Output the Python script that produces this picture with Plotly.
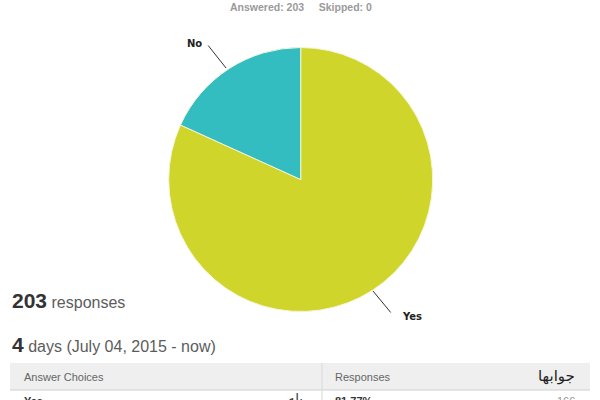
import plotly.graph_objects as go

# ---- data ----
answer_choices = ["Yes", "No"]
answer_choices_fa = ["بله", "خیر"]
response_counts = [166, 37]
answered = 203
skipped = 0
days_open = 4
start_date = "July 04, 2015"

slice_colors = ["#D0D52B", "#33BDC1"]
total = sum(response_counts)
percents = [c / total * 100 for c in response_counts]

W, H = 600, 400


def px(x):
    return x / W


def py(y):
    return 1 - y / H


# pie geometry (pixels)
cx, cy, r = 300.7, 179.5, 132

fig = go.Figure()
fig.add_trace(go.Pie(
    labels=answer_choices,
    values=response_counts,
    sort=False,
    direction="clockwise",
    rotation=0,
    textinfo="none",
    hoverinfo="label+value+percent",
    marker=dict(colors=slice_colors, line=dict(color="#f4f6d8", width=1)),
    domain=dict(x=[px(cx - r), px(cx + r)], y=[py(cy + r), py(cy - r)]),
    showlegend=False,
))

ann = []
shapes = []
base = "Liberation Sans, Arial, sans-serif"

# header text
ann.append(dict(x=px(301), y=py(7), xref="paper", yref="paper",
                text=f"<b>Answered: {answered}&nbsp;&nbsp;&nbsp;&nbsp;&nbsp;Skipped: {skipped}</b>",
                showarrow=False, font=dict(family=base, size=10.5, color="#9a9a9a"),
                xanchor="center", yanchor="middle"))

# slice labels with leader lines
ann.append(dict(x=px(226), y=py(68), ax=-19, ay=-24, xref="paper", yref="paper",
                text="", showarrow=True, arrowhead=0,
                arrowwidth=1, arrowcolor="#333"))
ann.append(dict(x=px(204), y=py(44), xref="paper", yref="paper",
                text=f"<b>{answer_choices[1]}</b>", showarrow=False,
                font=dict(family="DejaVu Sans, sans-serif", size=10, color="#222"),
                xanchor="right", yanchor="middle"))
ann.append(dict(x=px(373), y=py(291), ax=19, ay=23, xref="paper", yref="paper",
                text="", showarrow=True, arrowhead=0,
                arrowwidth=1, arrowcolor="#333"))
ann.append(dict(x=px(400), y=py(316), xref="paper", yref="paper",
                text=f"<b>{answer_choices[0]}</b>", showarrow=False,
                font=dict(family="DejaVu Sans, sans-serif", size=10, color="#222"),
                xanchor="left", yanchor="middle"))

# summary lines
ann.append(dict(x=px(10), y=py(300), xref="paper", yref="paper",
                text=f"<b><span style='font-size:21px;color:#333'>{total}</span></b> "
                     f"<span style='font-size:16px;color:#5c5c5c'>responses</span>",
                showarrow=False, font=dict(family=base, size=16, color="#5c5c5c"),
                xanchor="left", yanchor="middle"))
ann.append(dict(x=px(10), y=py(344), xref="paper", yref="paper",
                text=f"<b><span style='font-size:21px;color:#333'>{days_open}</span></b> "
                     f"<span style='font-size:16px;color:#5c5c5c'>days ({start_date} - now)</span>",
                showarrow=False, font=dict(family=base, size=16, color="#5c5c5c"),
                xanchor="left", yanchor="middle"))

# table
shapes.append(dict(type="rect", xref="paper", yref="paper", x0=px(10), x1=px(590),
                   y0=py(390), y1=py(363), fillcolor="#efefef", line=dict(width=0), layer="below"))
shapes.append(dict(type="line", xref="paper", yref="paper", x0=px(10), x1=px(590),
                   y0=py(390), y1=py(390), line=dict(color="#cfcfcf", width=1)))
shapes.append(dict(type="line", xref="paper", yref="paper", x0=px(322), x1=px(322),
                   y0=py(400), y1=py(363), line=dict(color="#d8d8d8", width=1)))

ann.append(dict(x=px(22), y=py(377), xref="paper", yref="paper", text="Answer Choices",
                showarrow=False, font=dict(family=base, size=11, color="#666"),
                xanchor="left", yanchor="middle"))
ann.append(dict(x=px(333), y=py(377), xref="paper", yref="paper", text="Responses",
                showarrow=False, font=dict(family=base, size=11, color="#666"),
                xanchor="left", yanchor="middle"))
ann.append(dict(x=px(577), y=py(376), xref="paper", yref="paper", text="جوابها",
                showarrow=False, font=dict(family="DejaVu Sans, sans-serif", size=15, color="#222"),
                xanchor="right", yanchor="middle"))

# first row (cut off by the bottom edge, as in the source screenshot)
ann.append(dict(x=px(22), y=py(393), xref="paper", yref="paper", text=f"<b>{answer_choices[0]}</b>",
                showarrow=False, font=dict(family=base, size=11, color="#333"),
                xanchor="left", yanchor="top"))
ann.append(dict(x=px(305), y=py(389), xref="paper", yref="paper", text=answer_choices_fa[0],
                showarrow=False, font=dict(family="DejaVu Sans, sans-serif", size=13, color="#333"),
                xanchor="right", yanchor="top"))
ann.append(dict(x=px(333), y=py(393), xref="paper", yref="paper", text=f"<b>{percents[0]:.2f}%</b>",
                showarrow=False, font=dict(family=base, size=11, color="#333"),
                xanchor="left", yanchor="top"))
ann.append(dict(x=px(577), y=py(393), xref="paper", yref="paper", text=f"{response_counts[0]}",
                showarrow=False, font=dict(family=base, size=11, color="#999"),
                xanchor="right", yanchor="top"))

fig.update_layout(
    width=W, height=H,
    margin=dict(l=0, r=0, t=0, b=0),
    paper_bgcolor="white", plot_bgcolor="white",
    annotations=ann, shapes=shapes,
)

fig.write_html("out.html",
               config={"displayModeBar": False},
               post_script="document.body.style.margin='0';document.body.style.overflow='hidden';")
